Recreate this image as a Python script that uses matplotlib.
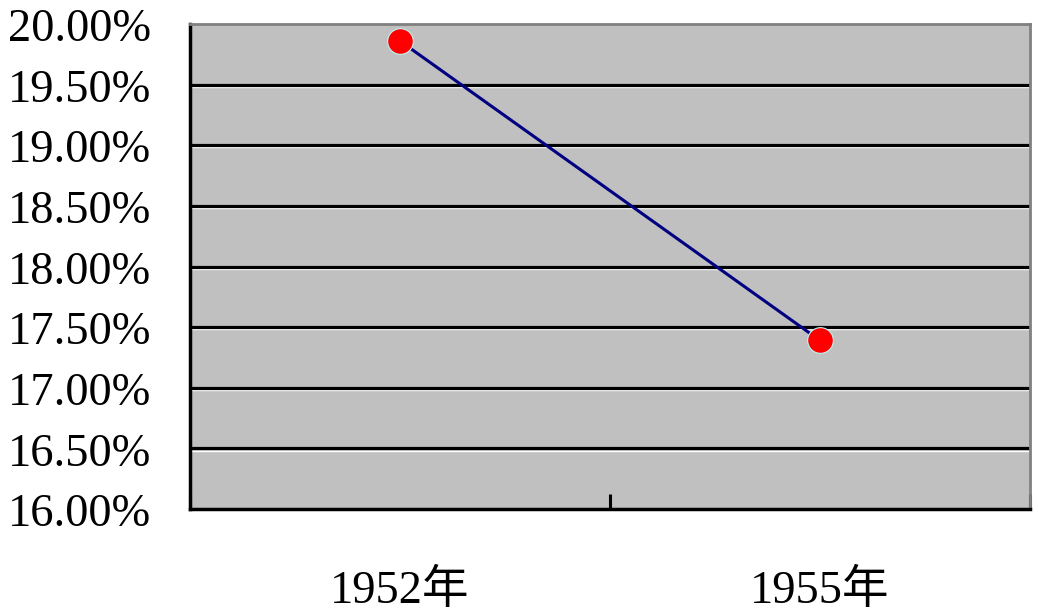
import matplotlib
matplotlib.use("Agg")
import matplotlib.pyplot as plt
import matplotlib.transforms as mtransforms

categories = ["1952年", "1955年"]
values = [19.86, 17.39]
yticks = [16.0, 16.5, 17.0, 17.5, 18.0, 18.5, 19.0, 19.5, 20.0]
ytick_labels = ["%.2f%%" % v for v in yticks]

fam = ["Liberation Serif", "Noto Sans CJK SC"]
plt.rcParams["font.family"] = fam

fig = plt.figure(figsize=(10.38, 6.14), dpi=100)
ax = fig.add_axes([190/1038, 1-509/614, 840/1038, 485/614])
ax.set_facecolor("#c0c0c0")

x = list(range(len(categories)))
ax.set_xlim(-0.5, len(categories) - 0.5)
ax.set_ylim(16, 20)

# gridlines: black with thin white highlight below
white_off = mtransforms.offset_copy(ax.transData, fig=fig, x=0, y=-2.2, units="dots")
for v in yticks[1:-1]:
    ax.plot([-0.5, len(categories) - 0.5], [v, v], color="white", lw=1.0,
            transform=white_off, zorder=1, solid_capstyle="butt")
    ax.axhline(v, color="black", lw=2.3, zorder=1.5)

ax.plot(x, values, color="#000080", lw=2.2, zorder=3)
ax.plot(x, values, "o", color="#ff0000", markersize=18.5,
        markeredgecolor="#bff5f5", markeredgewidth=0.8, zorder=4)

ax.set_yticks(yticks)
ax.set_yticklabels(ytick_labels, fontsize=33.5, ha="left")
ax.tick_params(axis="y", length=0, pad=131)
shift = mtransforms.ScaledTranslation(0, -6/100, fig.dpi_scale_trans)
for lbl in ax.get_yticklabels():
    lbl.set_va("center")
    lbl.set_transform(lbl.get_transform() + shift)

ax.set_xticks([-0.5, 0.5, 1.5])
ax.set_xticklabels([])
ax.tick_params(axis="x", direction="in", length=11, width=2.2, color="black")
ax.set_xticks(x, minor=True)
ax.set_xticklabels(categories, minor=True, fontsize=33.5)
ax.tick_params(axis="x", which="minor", length=0, pad=44)

ax.spines["left"].set_color("black")
ax.spines["left"].set_linewidth(2.5)
ax.spines["bottom"].set_color("black")
ax.spines["bottom"].set_linewidth(2.5)
ax.spines["top"].set_color("#808080")
ax.spines["top"].set_linewidth(2)
ax.spines["right"].set_color("#808080")
ax.spines["right"].set_linewidth(2)

fig.savefig("out.png", dpi=100, facecolor="white")
